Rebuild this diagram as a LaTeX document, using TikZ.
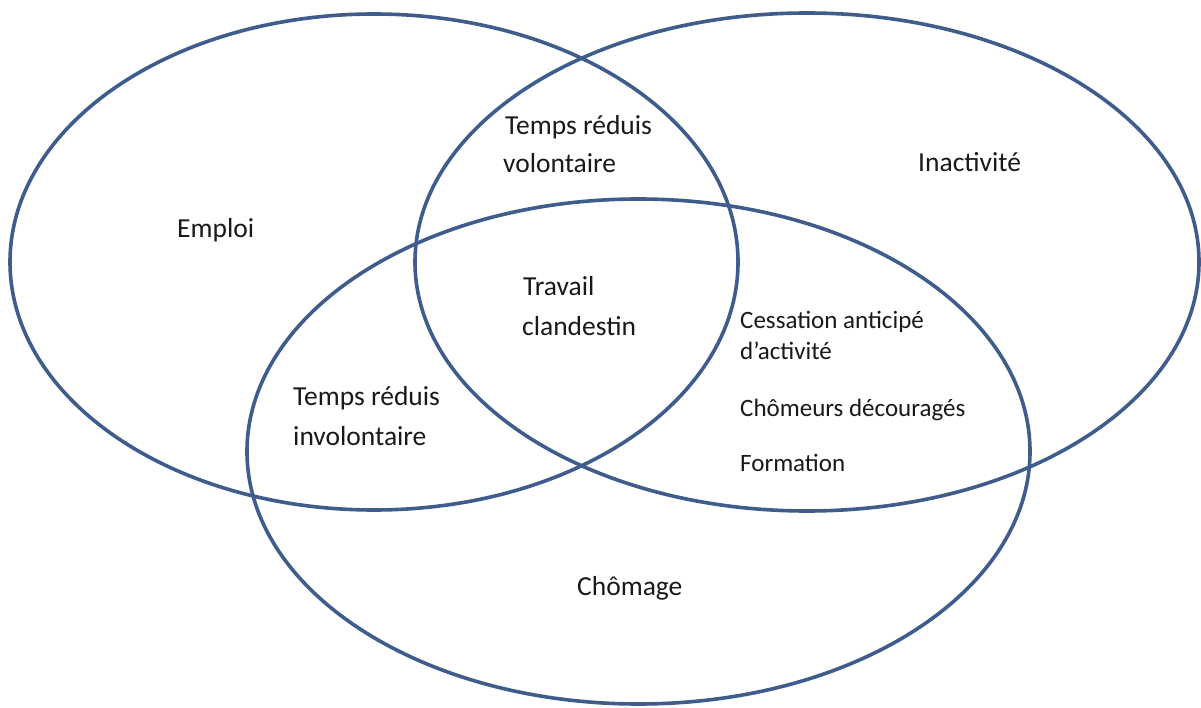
\documentclass[tikz,border=0pt]{standalone}
\usepackage{fontspec}
\setmainfont{Carlito}
\definecolor{venn}{RGB}{62,92,140}
\definecolor{txt}{RGB}{25,25,25}
\begin{document}
\begin{tikzpicture}[x=1pt,y=-1pt,
  setline/.style={draw=venn,line width=3.6pt},
  biglabel/.style={inner sep=0pt,anchor=base west,text=txt,font=\fontsize{27.5}{33}\selectfont},
  smalllabel/.style={inner sep=0pt,anchor=base west,text=txt,font=\fontsize{25}{30}\selectfont}]
\useasboundingbox (0,0) rectangle (1201,708);
\fill[white] (0,0) rectangle (1201,708);
% sets
\draw[setline] (374,262) ellipse [x radius=364, y radius=248];
\draw[setline] (807,262) ellipse [x radius=392, y radius=249];
\draw[setline] (638.5,451.5) ellipse [x radius=391.5, y radius=252.5];
% labels
\node[biglabel] (emploi) at (177,238) {Emploi};
\node[biglabel] (inact) at (918,172) {Inactivité};
\node[biglabel] (vol1) at (505,135) {Temps réduis};
\node[biglabel] (vol2) at (503,173) {volontaire};
\node[biglabel] (trav1) at (523,296) {Travail};
\node[biglabel] (trav2) at (522,335) {clandestin};
\node[biglabel] (inv1) at (293,405) {Temps réduis};
\node[biglabel] (inv2) at (293,445) {involontaire};
\node[biglabel] (chom) at (577,595) {Chômage};
\node[smalllabel] (cess1) at (740,329) {Cessation anticipé};
\node[smalllabel] (cess2) at (740,359) {d’activité};
\node[smalllabel] (decour) at (740,416) {Chômeurs découragés};
\node[smalllabel] (form) at (740,471) {Formation};
\end{tikzpicture}
\end{document}
